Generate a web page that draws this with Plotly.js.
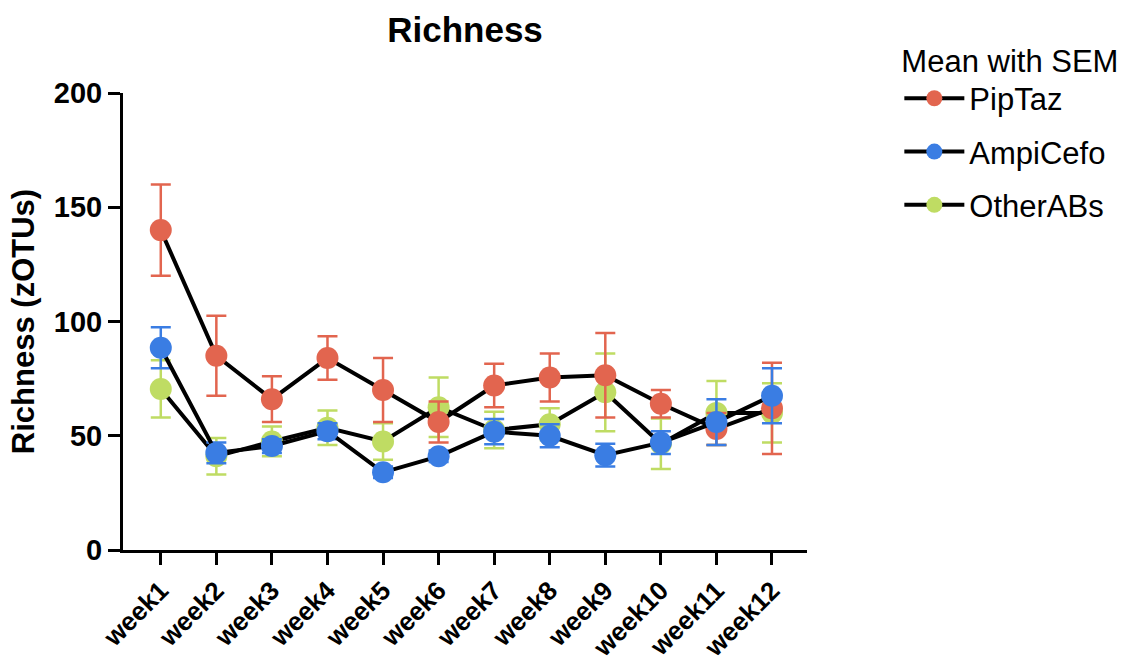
<!DOCTYPE html>
<html>
<head>
<meta charset="utf-8">
<script src="https://cdn.plot.ly/plotly-3.0.1.min.js"></script>
<style>html,body{margin:0;padding:0;background:#fff;}#chart{width:1133px;height:662px;}</style>
</head>
<body>
<div id="chart"></div>
<script>
const weeks = ["week1","week2","week3","week4","week5","week6","week7","week8","week9","week10","week11","week12"];
const pipTaz = [140, 85, 66, 84, 70, 56, 72, 75.5, 76.5, 64, 53, 62];
const pipTazSem = [20, 17.5, 10, 9.5, 14, 9, 9.5, 10.5, 18.5, 6, 7, 20];
const ampiCefo = [88.5, 42.5, 45.5, 52, 34, 41, 51.8, 50, 41.5, 47, 56, 67.5];
const ampiCefoSem = [9, 4.5, 3, 3.5, 2.5, 2.5, 5.5, 5, 5, 5, 10, 12];
const otherABs = [70.5, 41, 47.5, 53.5, 47.5, 62.5, 52.5, 55, 69, 46.5, 60, 60];
const otherABsSem = [12.5, 8, 6.5, 7.5, 8, 13, 8, 7, 17, 11, 14, 13];

const FONT = "Arial, 'Liberation Sans', sans-serif";

function series(name, y, sem, color, rank) {
  return {
    type: "scatter", mode: "lines+markers", name: name, x: weeks, y: y,
    legendrank: rank, legendgroup: name,
    line: {color: "#000", width: 4},
    marker: {color: color, size: 22, line: {width: 0}},
    error_y: {type: "data", array: sem, visible: true, color: color, thickness: 2.5, width: 10}
  };
}

const data = [
  series("OtherABs", otherABs, otherABsSem, "#BFDC63", 3),
  series("PipTaz", pipTaz, pipTazSem, "#E2654F", 1),
  series("AmpiCefo", ampiCefo, ampiCefoSem, "#3A7DE3", 2)
];

const layout = {
  width: 1133, height: 662,
  margin: {l: 123, r: 323, t: 93, b: 112},
  paper_bgcolor: "#fff", plot_bgcolor: "#fff",
  font: {family: FONT, color: "#000"},
  title: {text: "<b>Richness</b>", font: {size: 35, family: FONT, color: "#000"}, x: 0.5, xref: "paper", y: 0.955, yanchor: "middle"},
  xaxis: {
    type: "category", range: [-0.68, 11.63],
    showline: true, linecolor: "#000", linewidth: 3,
    ticks: "outside", ticklen: 12, tickwidth: 3, tickcolor: "#000",
    tickangle: -45, tickfont: {size: 26, family: FONT, weight: "bold"},
    showgrid: false, zeroline: false, fixedrange: true
  },
  yaxis: {
    range: [0, 200], tickvals: [0, 50, 100, 150, 200],
    showline: true, linecolor: "#000", linewidth: 3,
    ticks: "outside", ticklen: 12, tickwidth: 3, tickcolor: "#000",
    tickfont: {size: 29, family: FONT, weight: "bold"},
    title: {text: "<b>Richness (zOTUs)</b>", font: {size: 31, family: FONT}, standoff: 10},
    showgrid: false, zeroline: false, fixedrange: true
  },
  showlegend: true,
  legend: {
    x: 1.135, y: 1.135, xanchor: "left", yanchor: "top",
    font: {size: 31, family: FONT, color: "#000"},
    title: {text: "Mean with SEM", font: {size: 31, family: FONT}},
    bgcolor: "rgba(0,0,0,0)", traceorder: "grouped", tracegroupgap: 10,
    itemwidth: 60
  }
};

Plotly.newPlot("chart", data, layout, {displayModeBar: false, staticPlot: true});
</script>
</body>
</html>
